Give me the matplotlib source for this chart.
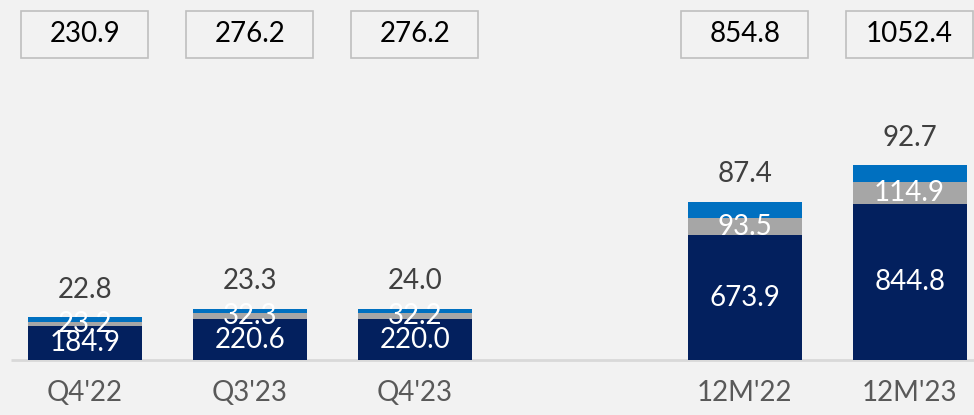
import matplotlib
matplotlib.use("Agg")
import matplotlib.pyplot as plt
from matplotlib.patches import Rectangle

plt.rcParams['font.family'] = ['Lato', 'DejaVu Sans']

categories = ["Q4'22", "Q3'23", "Q4'23", "12M'22", "12M'23"]
positions = [0, 1, 2, 4, 5]
base = [184.9, 220.6, 220.0, 673.9, 844.8]
middle = [23.2, 32.3, 32.2, 93.5, 114.9]
top = [22.8, 23.3, 24.0, 87.4, 92.7]
totals = [230.9, 276.2, 276.2, 854.8, 1052.4]

navy = '#03205e'
grey = '#a6a6a6'
blue = '#0070c0'
bg = '#f2f2f2'

fig = plt.figure(figsize=(9.74, 4.15), dpi=100, facecolor=bg)
ax = fig.add_axes([0, 0, 1, 1])
ax.set_facecolor(bg)
ax.set_xlim(-0.515, 5.39)
ax.set_ylim(-297, 1946)
ax.axis('off')

w = 0.69
b1 = [b + m for b, m in zip(base, middle)]
ax.bar(positions, base, w, color=navy, zorder=2)
ax.bar(positions, middle, w, bottom=base, color=grey, zorder=2)
ax.bar(positions, top, w, bottom=b1, color=blue, zorder=2)

# baseline
ax.plot([-0.45, 5.39], [0, 0], color='#d9d9d9', lw=2, zorder=1, solid_capstyle='butt')

fs = 20
for x, b, m, t, tot, cat in zip(positions, base, middle, top, totals, categories):
    ax.text(x, b / 2, f'{b:.1f}', ha='center', va='center', color='white', fontsize=fs, zorder=3)
    ax.text(x, b + m / 2, f'{m:.1f}', ha='center', va='center', color='white', fontsize=fs, zorder=3)
    ax.text(x, b + m + t + 150, f'{t:.1f}', ha='center', va='center', color='#404040', fontsize=fs)
    ax.text(x, -180, cat, ha='center', va='center', color='#595959', fontsize=fs)
    # total box
    bw, bh = 0.77, 254
    ax.add_patch(Rectangle((x - bw / 2, 1762 - bh / 2), bw, bh, facecolor=bg,
                           edgecolor='#bfbfbf', lw=1.2, zorder=2))
    ax.text(x, 1762, f'{tot:.1f}', ha='center', va='center', color='black', fontsize=fs, zorder=3)

fig.savefig('out.png', dpi=100, facecolor=bg)
